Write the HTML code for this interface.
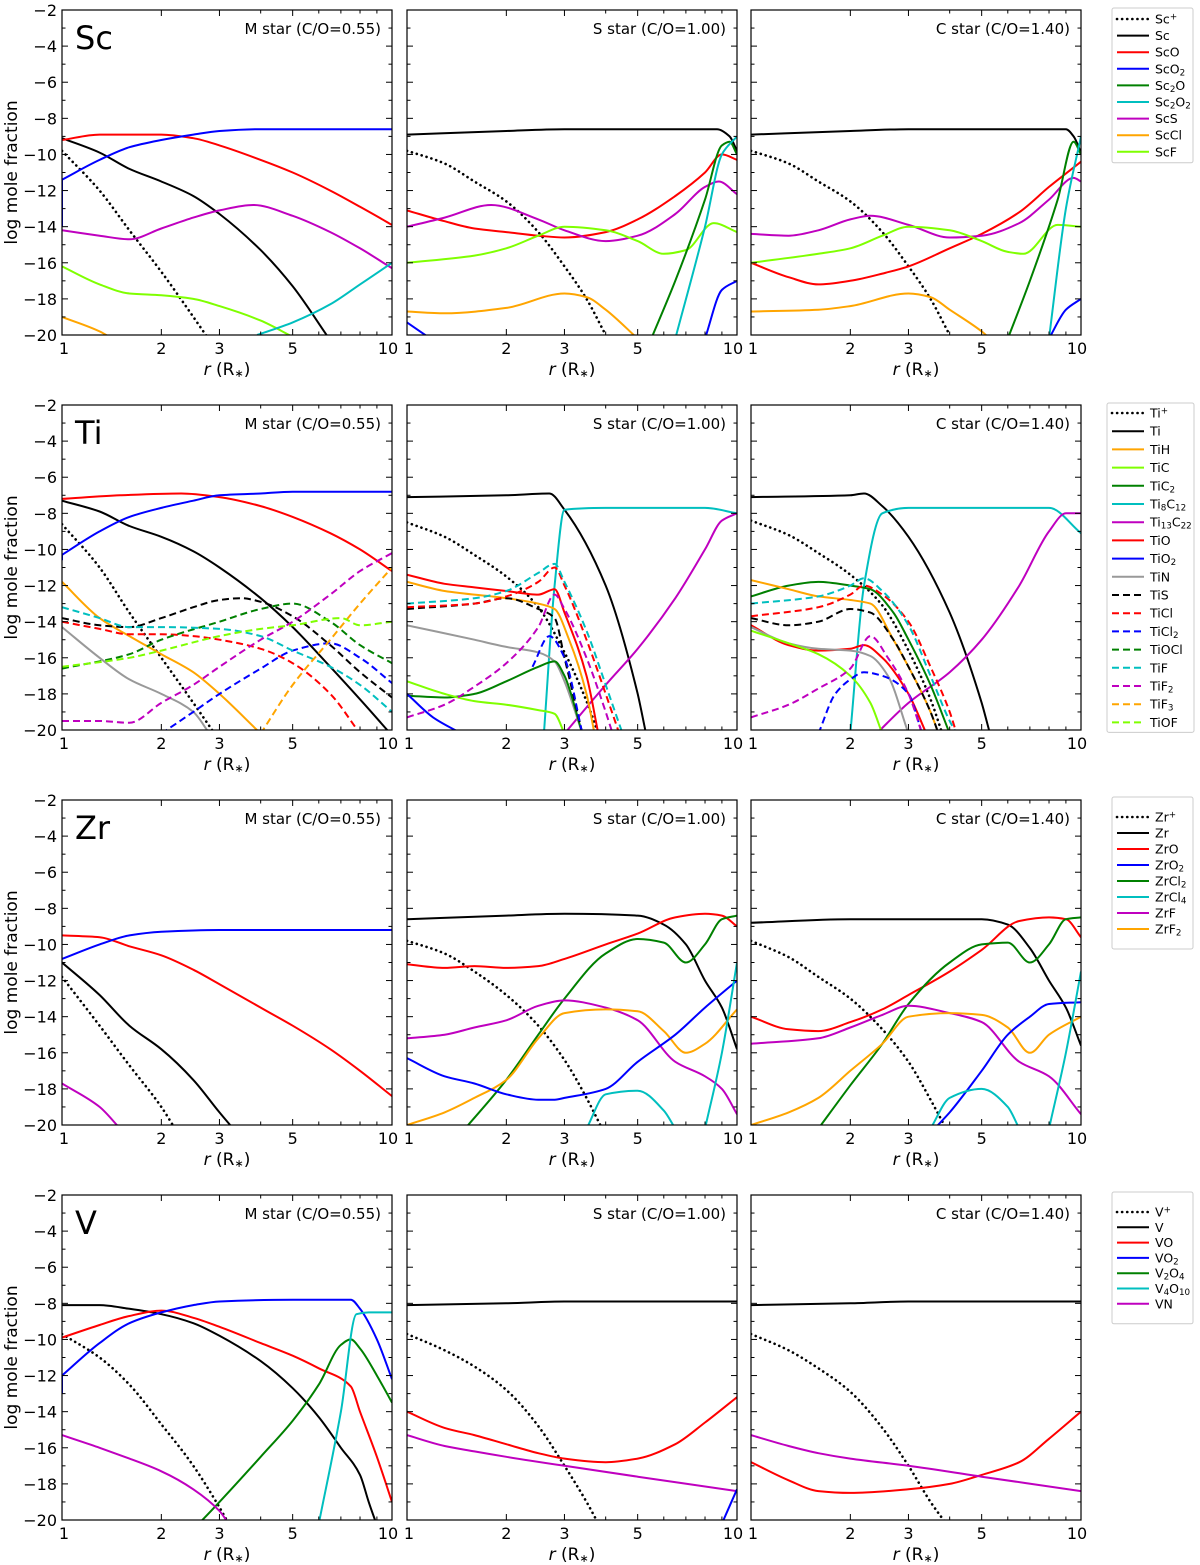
<!DOCTYPE html>
<html><head><meta charset="utf-8"><style>
html,body{margin:0;padding:0;background:#fff;}
svg{display:block;font-family:"DejaVu Sans","Liberation Sans",sans-serif;}
</style></head><body>
<svg id="fig" width="1200" height="1565" viewBox="0 0 1200 1565" xmlns="http://www.w3.org/2000/svg"></svg>
<script>
// ---- data ----
const colLefts=[62,407,751];
const rowTops=[10,405,800,1195];
const yTicks=[-2,-4,-6,-8,-10,-12,-14,-16,-18,-20];
const xTicks=[1,2,3,5,10];
const elements=['Sc','Ti','Zr','V'];
const starTitles=['M star (C/O=0.55)','S star (C/O=1.00)','C star (C/O=1.40)'];
const C={k:'#000',r:'#ff0000',b:'#0000ff',g:'#008000',c:'#00bfbf',m:'#bf00bf',o:'#ffa500',l:'#7fff00',gr:'#999999'};
// series: [label, color, dash, r-values, log-fraction values]
const scM=[
['Sc+','k','dot',[1,1.3,1.6,2,2.5,2.8],[-9.8,-12,-14.2,-16.5,-19,-20.3]],
['Sc','k','',[1,1.3,1.6,2,2.5,3,4,5,6.5],[-9.1,-9.9,-10.8,-11.5,-12.3,-13.3,-15.3,-17.3,-20.3]],
['ScO','r','',[1,1.3,2,2.5,3,4,5,6.5,8,10],[-9.2,-8.9,-8.9,-9.1,-9.5,-10.3,-11,-12,-12.9,-13.9]],
['ScO2','b','',[1,1,1.3,1.6,2,2.5,3,4,10],[-14,-11.4,-10.3,-9.6,-9.2,-8.9,-8.7,-8.6,-8.6]],
['ScS','m','',[1,1.3,1.6,2,2.5,3,3.8,5,6.5,8,10],[-14.2,-14.5,-14.7,-14.1,-13.5,-13.1,-12.8,-13.4,-14.3,-15.2,-16.3]],
['ScF','l','',[1,1.3,1.6,2,2.5,3,4,5],[-16.2,-17.2,-17.7,-17.8,-18,-18.4,-19.2,-20.1]],
['ScCl','o','',[1,1.3,1.45],[-19,-19.8,-20.3]],
['Sc2O2','c','',[3.9,5,6.5,8,10],[-20,-19.3,-18.3,-17.2,-16]]];
const scS=[
['Sc+','k','dot',[1,1.3,1.6,2,2.5,3,3.5,4],[-9.8,-10.5,-11.5,-12.6,-14.3,-16.2,-18,-20]],
['Sc','k','',[1,2,3,8.7,9.5,10],[-8.9,-8.7,-8.6,-8.6,-9.0,-9.8]],
['ScO','r','',[1,1.3,1.6,2,2.5,3,4,5,6.5,8,9,10],[-13.1,-13.7,-14.1,-14.3,-14.5,-14.6,-14.3,-13.6,-12.3,-11,-10,-10.3]],
['ScS','m','',[1,1.3,1.8,2.5,3,4,5,6.5,8,8.8,10],[-14,-13.5,-12.8,-13.6,-14.2,-14.8,-14.5,-13.3,-11.8,-11.5,-12.2]],
['ScF','l','',[1,1.6,2,2.5,3,4,5,6,7,8.5,10],[-16,-15.6,-15.2,-14.5,-14,-14.2,-14.8,-15.5,-15.3,-13.8,-14.3]],
['ScCl','o','',[1,1.3,2,3,3.5,4,5],[-18.7,-18.8,-18.5,-17.7,-17.9,-18.6,-20.2]],
['Sc2O','g','',[5.5,6.5,8,9,9.5,10],[-20.2,-17,-12.5,-9.5,-9.3,-10]],
['Sc2O2','c','',[6.5,8,9,10],[-20.2,-14,-10,-9]],
['ScO2','b','',[1,1.2],[-19.3,-20.3]],
['ScO2b','b','',[8,9,10],[-20.2,-17.5,-17]]];
const scC=[
['Sc+','k','dot',[1,1.3,1.6,2,2.5,3,3.5,4],[-9.8,-10.5,-11.5,-12.6,-14.3,-16.2,-18,-20]],
['Sc','k','',[1,2,3,9,9.5,10],[-8.9,-8.7,-8.6,-8.6,-9,-9.9]],
['ScO','r','',[1,1.3,1.6,2,2.5,3,4,5,6.5,8,10],[-16,-16.8,-17.2,-17,-16.6,-16.2,-15.2,-14.4,-13.2,-11.8,-10.4]],
['ScS','m','',[1,1.3,1.6,2,2.3,3,4,5,6.5,8,9.5,10],[-14.4,-14.5,-14.2,-13.6,-13.4,-13.9,-14.6,-14.5,-13.8,-12.5,-11.3,-11.5]],
['ScF','l','',[1,1.6,2,2.5,3,4,5,6,6.7,8.5,10],[-16,-15.5,-15.2,-14.5,-14,-14.2,-14.8,-15.4,-15.5,-13.9,-14]],
['ScCl','o','',[1,1.6,2,3,3.5,4,5,5.3],[-18.7,-18.6,-18.4,-17.7,-17.9,-18.6,-19.8,-20.2]],
['Sc2O','g','',[6,7,8.5,9.5,10],[-20.2,-17,-12.5,-9.3,-10]],
['Sc2O2','c','',[8,9,10],[-20.2,-13,-9]],
['ScO2','b','',[8,9,10],[-20.2,-18.6,-18]]];
const tiM=[
['Ti+','k','dot',[1,1.3,1.6,2,2.5,2.9],[-8.6,-11,-13.5,-16,-18.5,-20.2]],
['Ti','k','',[1,1.3,1.6,2,2.5,3,4,5,6.5,8,10],[-7.3,-7.9,-8.7,-9.3,-10.1,-11,-12.7,-14.3,-16.5,-18.3,-20.3]],
['TiO','r','',[1,1.5,2.3,3,4,5,6.5,8,10],[-7.2,-7,-6.9,-7.1,-7.6,-8.2,-9.1,-10,-11.2]],
['TiO2','b','',[1,1,1.3,1.6,2,2.5,3,4,5,10],[-10.6,-10.3,-9,-8.2,-7.7,-7.3,-7,-6.9,-6.8,-6.8]],
['TiH','o','',[1,1.3,1.6,2,2.5,3,4],[-11.8,-13.8,-14.8,-15.8,-16.8,-18,-20.2]],
['TiN','gr','',[1,1.3,1.6,2,2.5,2.8],[-14.3,-16,-17.2,-18,-19,-20.2]],
['TiS','k','dash',[1,1.3,1.6,2,2.5,3,3.5,4,5,6.5,8,10],[-13.8,-14.2,-14.3,-13.8,-13.2,-12.8,-12.7,-12.9,-13.7,-15.3,-16.8,-18.2]],
['TiCl','r','dash',[1,1.3,1.6,2,2.5,3,4,5,6.5,8],[-14,-14.4,-14.7,-14.7,-14.8,-15,-15.5,-16.3,-18,-20.2]],
['TiCl2','b','dash',[2,2.5,3,4,5,6.5,8,10],[-20.2,-19,-18,-16.6,-15.6,-15.2,-16,-17.4]],
['TiOCl','g','dash',[1,1.6,2,3,4,5,6.5,8,10],[-16.6,-15.8,-15,-14,-13.3,-13,-14,-15.3,-16.3]],
['TiF','c','dash',[1,1.3,1.6,2,3,4,5,6.5,8,10],[-13.2,-13.8,-14.3,-14.3,-14.4,-14.8,-15.6,-16.5,-17.5,-19]],
['TiF2','m','dash',[1,1.3,1.6,2,2.5,3,4,5,6.5,8,10],[-19.5,-19.5,-19.6,-18.5,-17.5,-16.5,-15,-14,-12.5,-11.2,-10.2]],
['TiF3','o','dash',[4,5,6.5,8,10],[-20.2,-17.5,-15,-13,-11]],
['TiOF','l','dash',[1,1.6,2,3,4,5,7,8,10],[-16.5,-16,-15.6,-14.8,-14.4,-14.2,-13.8,-14.2,-14]]];
const tiS=[
['Ti+','k','dot',[1,1.3,1.6,2,2.5,3,3.5,3.8],[-8.5,-9.3,-10.3,-11.5,-13.2,-15.7,-18.4,-20.2]],
['Ti','k','',[1,2,2.7,3,4,5,5.3],[-7.1,-7,-6.9,-7.8,-12,-18,-20.2]],
['Ti8C12','c','',[2.6,2.8,3,4,8,10],[-20.2,-12,-7.8,-7.7,-7.7,-8]],
['Ti13C22','m','',[3,4,5,6.5,8,9,10],[-20.2,-17.5,-15.5,-12.7,-10,-8.4,-8]],
['TiO','r','',[1,1.3,1.6,2,2.5,2.8,3,3.5,3.8],[-11.4,-11.9,-12.1,-12.3,-12.5,-12.2,-13.5,-17,-20.2]],
['TiH','o','',[1,1.3,2,2.5,2.8,3.1,3.5,3.7],[-11.8,-12.3,-12.7,-13,-13.3,-15,-18,-20.2]],
['TiN','gr','',[1,1.6,2,2.5,2.8,3,3.4],[-14.2,-15,-15.4,-15.7,-16.2,-17.3,-20.2]],
['TiC2','g','',[1,1.3,1.6,2,2.5,2.8,3,3.4],[-18.1,-18.2,-18,-17.3,-16.5,-16.2,-17,-20.2]],
['TiC','l','',[1,1.3,1.6,2,2.5,2.8,3],[-17.3,-18,-18.4,-18.6,-18.9,-19.1,-20.2]],
['TiO2','b','',[1,1.2,1.5],[-18,-19.3,-20.3]],
['TiS','k','dash',[1,1.6,2,2.5,2.8,3,3.4],[-13.3,-13,-12.7,-13.3,-13.8,-16,-20.2]],
['TiCl','r','dash',[1,1.6,2,2.5,2.8,3,3.5,4,4.4],[-13.2,-13,-12.6,-11.8,-11,-12,-15,-18,-20.2]],
['TiCl2','b','dash',[2.4,2.7,3,3.4],[-16.5,-14.8,-16,-20.2]],
['TiF','c','dash',[1,1.6,2,2.5,2.8,3,3.5,4,4.5],[-13,-12.7,-12.3,-11.3,-10.8,-11.8,-14.5,-17.5,-20.2]],
['TiF2','m','dash',[1,1.3,1.6,2,2.5,2.8,3,3.5,4,4.2],[-19.3,-18.6,-17.6,-16.3,-14.3,-12.5,-13.3,-16,-19,-20.2]]];
const tiC=[
['Ti+','k','dot',[1,1.3,1.6,2,2.5,3,3.5,3.8],[-8.4,-9.2,-10.2,-11.4,-13.1,-15.6,-18.3,-20.2]],
['Ti','k','',[1,2,2.2,2.5,3,4,5,5.3],[-7.1,-7,-6.9,-7.6,-9.3,-13.5,-18.5,-20.2]],
['Ti8C12','c','',[2,2.2,2.5,3,8,10],[-20.2,-12,-8,-7.7,-7.7,-9.1]],
['Ti13C22','m','',[2.4,3,4,5,6.5,8,9,10],[-20.2,-18.5,-16.8,-15,-12,-9,-8,-8]],
['TiC2','g','',[1,1.3,1.6,2,2.3,2.7,3,3.5,4],[-12.6,-12,-11.8,-12,-12.2,-13.5,-15,-17.5,-20.2]],
['TiH','o','',[1,1.3,1.6,2,2.3,2.7,3,3.5,3.7],[-11.7,-12.2,-12.6,-12.8,-13,-15,-16.5,-19,-20.2]],
['TiO','r','',[1,1.3,1.6,2,2.2,2.5,3,3.4],[-14.2,-15.3,-15.6,-15.5,-15.3,-16,-18,-20.2]],
['TiN','gr','',[1,1.3,1.6,2,2.3,2.6,3],[-14.3,-15.2,-15.5,-15.6,-15.9,-17,-20.2]],
['TiC','l','',[1,1.3,1.6,2,2.3,2.5],[-14.5,-15.2,-15.8,-17,-18.5,-20.2]],
['TiS','k','dash',[1,1.3,1.6,2,2.3,2.7,3,3.5,3.7],[-13.8,-14.2,-14,-13.3,-13.5,-15,-16.5,-19,-20.2]],
['TiCl','r','dash',[1,1.6,2,2.2,2.5,3,3.5,4,4.2],[-13.7,-13.2,-12.5,-12,-12.5,-14,-16.5,-19,-20.2]],
['TiF','c','dash',[1,1.6,2,2.2,2.5,3,3.5,4,4.2],[-13,-12.6,-12,-11.6,-12.3,-14.2,-17,-19.5,-20.2]],
['TiCl2','b','dash',[1.6,1.8,2,2.2,2.5,3,3.3],[-20.2,-18,-17.2,-16.8,-17,-18,-20.2]],
['TiF2','m','dash',[1,1.3,1.6,2,2.3,2.6,3,3.3],[-19.3,-18.6,-17.7,-16.6,-14.8,-16,-18,-20.2]]];
const zrM=[
['Zr+','k','dot',[1,1.3,1.6,2,2.2],[-11.8,-14.5,-16.7,-19,-20.2]],
['Zr','k','',[1,1.3,1.6,2,2.5,3,3.3],[-11,-12.8,-14.5,-15.8,-17.5,-19.3,-20.2]],
['ZrO','r','',[1,1.3,1.6,2,2.5,3,4,5,6.5,8,10],[-9.5,-9.6,-10.1,-10.6,-11.4,-12.2,-13.5,-14.5,-15.8,-17,-18.4]],
['ZrO2','b','',[1,1.3,1.6,2,3,10],[-10.8,-10,-9.5,-9.3,-9.2,-9.2]],
['ZrF','m','',[1,1.3,1.5],[-17.7,-19,-20.2]]];
const zrS=[
['Zr+','k','dot',[1,1.3,1.6,2,2.5,3,3.5,3.9],[-9.8,-10.5,-11.5,-12.8,-14.5,-16.4,-18.5,-20.2]],
['Zr','k','',[1,2,3,5,6,7,8,9,10],[-8.6,-8.4,-8.3,-8.4,-8.9,-10,-12,-13.5,-15.8]],
['ZrO','r','',[1,1.3,1.6,2,2.5,3,4,5,6.5,8,9,10],[-11.1,-11.3,-11.2,-11.3,-11.2,-10.8,-10,-9.4,-8.5,-8.3,-8.4,-9]],
['ZrCl2','g','',[1.5,2,2.5,3,4,5,6,7,8,9,10],[-20.2,-17.5,-15,-13,-10.5,-9.7,-9.9,-11,-10,-8.6,-8.4]],
['ZrF','m','',[1,1.3,1.6,2,2.5,3,4,5,6.5,8,9,10],[-15.2,-15,-14.6,-14.2,-13.4,-13.1,-13.5,-14.2,-16.5,-17.3,-18,-19.4]],
['ZrF2','o','',[1,1.3,1.6,2,2.5,3,4,5,6,7,8,10],[-20,-19.3,-18.5,-17.5,-15.2,-13.8,-13.6,-13.7,-14.8,-16,-15.5,-13.6]],
['ZrO2','b','',[1,1.3,1.6,2,2.5,2.8,3,4,5,6.5,8,10],[-16.3,-17.3,-17.7,-18.3,-18.6,-18.6,-18.5,-18,-16.5,-15,-13.5,-12]],
['ZrCl4','c','',[3.5,4,5,6,6.5],[-20.2,-18.3,-18.1,-19.2,-20.2]],
['ZrCl4b','c','',[8,9,10],[-20.2,-16,-11]]];
const zrC=[
['Zr+','k','dot',[1,1.3,1.6,2,2.5,3,3.5,3.9],[-9.8,-10.7,-11.8,-13,-14.7,-16.5,-18.6,-20.2]],
['Zr','k','',[1,2,3,5,6,7,8,9,10],[-8.8,-8.6,-8.6,-8.6,-8.9,-10.2,-12,-13.5,-15.6]],
['ZrO','r','',[1,1.3,1.6,2,2.5,3,4,5,6.5,8,9,10],[-14,-14.7,-14.8,-14.3,-13.6,-12.8,-11.5,-10.3,-8.7,-8.5,-8.6,-9.6]],
['ZrCl2','g','',[1.6,2,2.5,3,4,5,6,7,8,9,10],[-20.2,-17.8,-15.5,-13.3,-11,-10,-9.9,-11,-10,-8.6,-8.5]],
['ZrF','m','',[1,1.6,2,2.5,3,4,5,6.5,8,10],[-15.5,-15.2,-14.6,-13.9,-13.4,-13.8,-14.3,-16.5,-17.3,-19.4]],
['ZrF2','o','',[1,1.3,1.6,2,2.5,3,4,5,6,7,8,10],[-20,-19.3,-18.5,-17,-15.5,-14,-13.8,-13.9,-14.6,-16,-15,-14]],
['ZrO2','b','',[3.6,4,5,6,7,8,10],[-20.2,-19.3,-17,-15,-14,-13.3,-13.2]],
['ZrCl4','c','',[3.5,4,5,6,6.5],[-20.2,-18.5,-18,-19,-20.2]],
['ZrCl4b','c','',[8,9,10],[-20.2,-16,-11.5]]];
const vM=[
['V+','k','dot',[1,1.3,1.6,2,2.5,3,3.2],[-9.7,-11,-12.5,-14.7,-17,-19.3,-20.2]],
['V','k','',[1,1.3,1.6,2,2.5,3,4,5,6,7,8,8.5,9],[-8.1,-8.1,-8.3,-8.6,-9.1,-9.8,-11.2,-12.7,-14.3,-16,-17.5,-19,-20.3]],
['VO','r','',[1,1.3,1.6,2,2.5,3,4,5,6,7.5,8,9,10],[-9.9,-9.2,-8.7,-8.4,-8.8,-9.3,-10.2,-10.9,-11.6,-12.6,-14,-16.5,-19]],
['VO2','b','',[1,1,1.3,1.6,2,2.5,3,5,7.5,8,9,10],[-13,-12,-10.2,-9.1,-8.5,-8.1,-7.9,-7.8,-7.8,-8.3,-10,-12.2]],
['V2O4','g','',[2.6,3,4,5,6,7,7.5,8,9,10],[-20.2,-19,-16.5,-14.5,-12.5,-10.3,-10,-10.5,-12,-13.5]],
['V4O10','c','',[6,7,7.8,8.5,10],[-20.2,-14,-8.6,-8.5,-8.5]],
['VN','m','',[1,1.3,1.6,2,2.5,3,3.2],[-15.3,-16,-16.6,-17.3,-18.3,-19.5,-20.2]]];
const vS=[
['V+','k','dot',[1,1.3,1.6,2,2.5,3,3.5,3.8],[-9.7,-10.6,-11.5,-12.8,-14.8,-17,-19,-20.2]],
['V','k','',[1,2,3,10],[-8.1,-8,-7.9,-7.9]],
['VO','r','',[1,1.3,1.6,2,2.5,3,4,5,6.5,8,10],[-14,-14.9,-15.3,-15.8,-16.3,-16.6,-16.8,-16.6,-15.8,-14.6,-13.2]],
['VN','m','',[1,1.3,1.6,2,3,5,10],[-15.3,-15.9,-16.2,-16.5,-17,-17.6,-18.4]],
['VO2','b','',[9,10],[-20.2,-18.3]]];
const vC=[
['V+','k','dot',[1,1.3,1.6,2,2.5,3,3.5,3.9],[-9.7,-10.6,-11.6,-12.9,-14.9,-17,-19,-20.2]],
['V','k','',[1,2,3,10],[-8.1,-8,-7.9,-7.9]],
['VO','r','',[1,1.3,1.6,2,3,4,5,6.5,8,10],[-16.8,-17.8,-18.4,-18.5,-18.3,-18,-17.5,-16.8,-15.5,-14]],
['VN','m','',[1,1.3,1.6,2,3,5,10],[-15.3,-15.9,-16.3,-16.6,-17,-17.6,-18.4]]];
const panels=[[scM,scS,scC],[tiM,tiS,tiC],[zrM,zrS,zrC],[vM,vS,vC]];
const legSc=[['Sc|+','k','dot'],['Sc','k',''],['ScO','r',''],['ScO_2','b',''],['Sc_2O','g',''],['Sc_2O_2','c',''],['ScS','m',''],['ScCl','o',''],['ScF','l','']];
const legTi=[['Ti|+','k','dot'],['Ti','k',''],['TiH','o',''],['TiC','l',''],['TiC_2','g',''],['Ti_8C_12','c',''],['Ti_13C_22','m',''],['TiO','r',''],['TiO_2','b',''],['TiN','gr',''],['TiS','k','dash'],['TiCl','r','dash'],['TiCl_2','b','dash'],['TiOCl','g','dash'],['TiF','c','dash'],['TiF_2','m','dash'],['TiF_3','o','dash'],['TiOF','l','dash']];
const legZr=[['Zr|+','k','dot'],['Zr','k',''],['ZrO','r',''],['ZrO_2','b',''],['ZrCl_2','g',''],['ZrCl_4','c',''],['ZrF','m',''],['ZrF_2','o','']];
const legV=[['V|+','k','dot'],['V','k',''],['VO','r',''],['VO_2','b',''],['V_2O_4','g',''],['V_4O_10','c',''],['VN','m','']];
const legends=[[legSc,1112,8,19,16.6,81],[legTi,1107,403,413,18.2,87],[legZr,1112,797,817,16,81],[legV,1112,1192,1212,15.3,81]];

// ---- drawing ----
const NS='http://www.w3.org/2000/svg';
const svg=document.getElementById('fig');
const W=330,H=325;
function mk(tag,attrs,parent){const e=document.createElementNS(NS,tag);for(const k in attrs)e.setAttribute(k,attrs[k]);(parent||svg).appendChild(e);return e;}
function xs(left,r){return left+Math.log10(r)*W;}
function ys(top,v){return top+(-2-v)/18*H;}
function dashArr(d){return d==='dot'?'0.1,5':d==='dash'?'7,4':'none';}
function monoRun(pts){
  const n=pts.length;let d='';
  if(n<2)return d;
  const dx=[],s=[];
  for(let i=0;i<n-1;i++){dx.push(pts[i+1][0]-pts[i][0]);s.push((pts[i+1][1]-pts[i][1])/dx[i]);}
  const m=new Array(n);
  m[0]=s[0];m[n-1]=s[n-2];
  for(let i=1;i<n-1;i++){
    if(s[i-1]*s[i]<=0)m[i]=0;
    else{const w1=2*dx[i]+dx[i-1],w2=dx[i]+2*dx[i-1];m[i]=(w1+w2)/(w1/s[i-1]+w2/s[i]);}
  }
  for(let i=0;i<n-1;i++){
    const p1=pts[i],p2=pts[i+1],h=dx[i]/3;
    d+=' C'+(p1[0]+h).toFixed(1)+','+(p1[1]+m[i]*h).toFixed(1)+' '+(p2[0]-h).toFixed(1)+','+(p2[1]-m[i+1]*h).toFixed(1)+' '+p2[0].toFixed(1)+','+p2[1].toFixed(1);
  }
  return d;
}
function pathD(pts){
  let d='M'+pts[0][0].toFixed(1)+','+pts[0][1].toFixed(1);
  let run=[pts[0]];
  for(let i=1;i<pts.length;i++){
    if(Math.abs(pts[i][0]-run[run.length-1][0])<0.01){
      d+=monoRun(run);
      d+=' L'+pts[i][0].toFixed(1)+','+pts[i][1].toFixed(1);
      run=[pts[i]];
    } else run.push(pts[i]);
  }
  d+=monoRun(run);
  return d;
}
function addText(str,x,y,attrs,parent){
  const t=mk('text',Object.assign({x:x,y:y},attrs),parent);
  const re=/([_|])(\d+|\+)|([^_|]+)/g;let m;
  while((m=re.exec(str))){
    const s=mk('tspan',{},t);
    if(m[3]){s.textContent=m[3];}
    else{s.textContent=m[2];s.setAttribute('font-size','0.7em');s.setAttribute('baseline-shift',m[1]==='_'?'-25%':'40%');}
  }
  return t;
}
const defs=mk('defs',{});
panels.forEach((row,ri)=>{
  row.forEach((series,ci)=>{
    const L=colLefts[ci],T=rowTops[ri];
    const g=mk('g',{});
    
    
    const cp=mk('clipPath',{id:'cp'+ri+ci},defs);
    mk('rect',{x:L,y:T,width:W,height:H},cp);
    const lg=mk('g',{'clip-path':'url(#cp'+ri+ci+')'},g);
    series.forEach(s=>{
      const pts=s[3].map((r,i)=>[xs(L,r),ys(T,s[4][i])]);
      const p=mk('path',{d:pathD(pts),fill:'none',stroke:C[s[1]],'stroke-width':s[2]==='dot'?2.6:2,'stroke-dasharray':dashArr(s[2]),'stroke-linecap':s[2]==='dot'?'round':'butt'},lg);
      
      
    });
    const fr=mk('rect',{x:L,y:T,width:W,height:H,fill:'none',stroke:'#000','stroke-width':1.2},g);
    
    
    for(let v=-2;v>=-20;v--){
      const y=ys(T,v),len=(v%2===0)?6:3.5;
      mk('line',{x1:L,x2:L+len,y1:y,y2:y,stroke:'#000','stroke-width':1},g);
      mk('line',{x1:L+W,x2:L+W-len,y1:y,y2:y,stroke:'#000','stroke-width':1},g);
    }
    if(ci===0){
      yTicks.forEach(v=>{
        const t=mk('text',{x:L-5,y:ys(T,v)+6,'text-anchor':'end','font-size':16},g);
        t.textContent='\u2212'+Math.abs(v);
        
        
      });
      const yl=mk('text',{x:0,y:0,transform:'translate('+(L-45)+','+(T+H/2)+') rotate(-90)','text-anchor':'middle','font-size':17},g);
      yl.textContent='log mole fraction';
      
      
      const el=mk('text',{x:L+13,y:T+39,'font-size':32},g);
      el.textContent=elements[ri];
      
      
    }
    for(let r=1;r<=10;r++){
      const x=xs(L,r),len=(xTicks.indexOf(r)>=0)?6:3.5;
      mk('line',{x1:x,x2:x,y1:T+H,y2:T+H-len,stroke:'#000','stroke-width':1},g);
      mk('line',{x1:x,x2:x,y1:T,y2:T+len,stroke:'#000','stroke-width':1},g);
    }
    xTicks.forEach(r=>{
      const t=mk('text',{x:xs(L,r)+(r===10?-4:r===1?2:0),y:T+H+19,'text-anchor':'middle','font-size':16},g);
      t.textContent=r;
      
      
    });
    const xl=mk('text',{x:L+W/2,y:T+H+40,'text-anchor':'middle','font-size':17},g);
    xl.innerHTML='<tspan font-style="italic">r</tspan> (R<tspan font-size="11" baseline-shift="-20%">\u2217</tspan>)';
    
    
    const st=mk('text',{x:L+W-11,y:T+24,'text-anchor':'end','font-size':15},g);
    st.textContent=starTitles[ci];
    
    
  });
});
legends.forEach(([items,bx,by,fy,dy,bw])=>{
  const g=mk('g',{});
  
  
  const h=(items.length-1)*dy+(fy-by)*2;
  mk('rect',{x:bx,y:by,width:bw,height:h,fill:'#fff',stroke:'#ccc','stroke-width':1,rx:2},g);
  items.forEach((it,i)=>{
    const y=fy+i*dy;
    const e=mk('g',{},g);
    
    
    mk('line',{x1:bx+5,x2:bx+37,y1:y,y2:y,stroke:C[it[1]],'stroke-width':it[2]==='dot'?2.6:2,'stroke-dasharray':dashArr(it[2]),'stroke-linecap':it[2]==='dot'?'round':'butt'},e);
    addText(it[0],bx+43,y+4.5,{'font-size':12.5},e);
  });
});
</script>
</body></html>
